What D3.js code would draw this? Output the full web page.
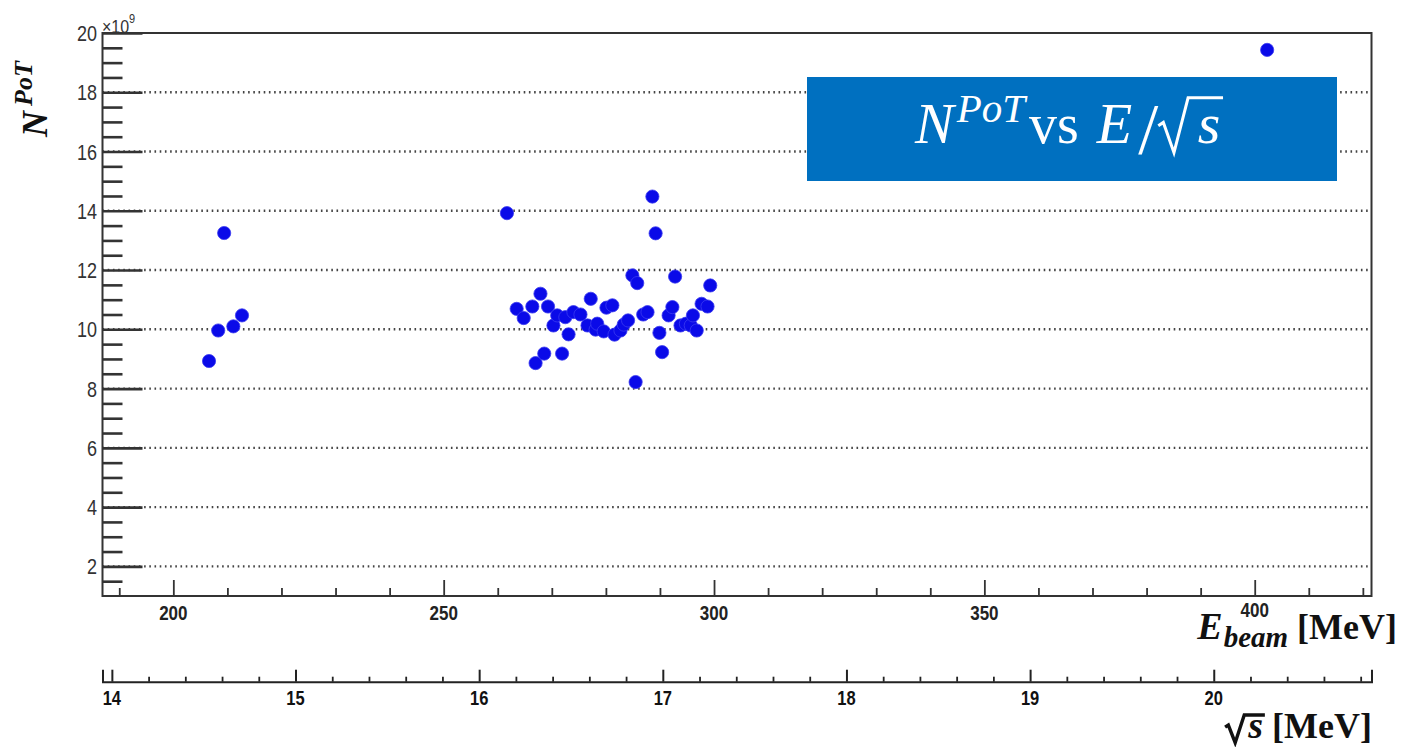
<!DOCTYPE html>
<html>
<head>
<meta charset="utf-8">
<script src="https://cdn.jsdelivr.net/npm/d3@7"></script>
<style>
  html, body { margin: 0; padding: 0; background: #fff; }
  svg { display: block; }
</style>
</head>
<body>
<svg id="chart" width="1405" height="747"></svg>
<script>
// Beam energy (MeV) of each run
const eBeam = [206.6, 208.3, 209.4, 211.1, 212.7, 261.7, 263.5, 264.8, 266.4, 267.0,
  267.9, 268.6, 269.3, 270.3, 271.0, 271.9, 272.5, 273.1, 274.0, 275.3,
  276.6, 277.2, 278.1, 278.4, 279.6, 280.1, 281.2, 281.6, 282.7, 283.3,
  284.1, 284.9, 285.5, 285.8, 286.9, 287.7, 288.6, 289.2, 289.9, 290.4,
  291.6, 292.3, 292.8, 293.8, 294.8, 295.7, 296.1, 296.8, 297.7, 298.8,
  299.3, 402.3];
// Positrons on target, in units of 10^9
const nPoT = [8.93, 9.96, 13.25, 10.10, 10.47, 13.92, 10.69, 10.38, 10.77, 8.86,
  11.20, 9.18, 10.77, 10.13, 10.47, 9.18, 10.41, 9.83, 10.58, 10.50,
  10.13, 11.03, 9.99, 10.19, 9.93, 10.73, 10.81, 9.82, 9.96, 10.16,
  10.30, 11.82, 8.22, 11.56, 10.50, 10.58, 14.48, 13.24, 9.88, 9.23,
  10.47, 10.75, 11.78, 10.13, 10.19, 10.13, 10.47, 9.96, 10.86, 10.77,
  11.48, 19.43];

const yMajorTicks = [2, 4, 6, 8, 10, 12, 14, 16, 18, 20];
const eMajorTicks = [200, 250, 300, 350, 400];
const sMajorTicks = [14, 15, 16, 17, 18, 19, 20];

const svg = d3.select("#chart");
const frame = { left: 102.5, right: 1371.5, top: 33, bottom: 596 };

const x = d3.scaleLinear().domain([186.9, 421.6]).range([frame.left, frame.right]);
const y = d3.scaleLinear().domain([1.0, 20.0]).range([frame.bottom, frame.top]);
const xs = d3.scaleLinear().domain([13.949, 20.859]).range([frame.left, frame.right]);

const sansBold = "'Liberation Sans', Arial, Helvetica, sans-serif";
const serif = "'Liberation Serif', 'Times New Roman', serif";

// dotted horizontal grid at the major N ticks
svg.append("g").selectAll("line")
  .data(yMajorTicks.filter(d => d < 20))
  .join("line")
  .attr("x1", frame.left).attr("x2", frame.right)
  .attr("y1", d => y(d)).attr("y2", d => y(d))
  .attr("stroke", "#444").attr("stroke-width", 2.4)
  .attr("stroke-dasharray", "1.6,3.6");

// left axis: long major ticks, short minor ticks
const yMinor = d3.range(1.5, 20, 0.5).filter(v => Math.abs(v % 2) > 1e-6);
const yAxisMajor = d3.axisRight(y).tickValues(yMajorTicks).tickSize(40).tickFormat("");
const yAxisMinor = d3.axisRight(y).tickValues(yMinor).tickSize(20).tickFormat("");
[yAxisMajor, yAxisMinor].forEach(ax => {
  const g = svg.append("g").attr("transform", `translate(${frame.left},0)`).call(ax);
  g.select(".domain").remove();
  g.selectAll("line").attr("stroke", "#333").attr("stroke-width", 2.6);
});

// N tick labels
svg.append("g").selectAll("text")
  .data(yMajorTicks)
  .join("text")
  .attr("transform", d => `translate(97,${y(d)}) scale(1,1.25)`)
  .attr("dy", "0.36em")
  .attr("text-anchor", "end")
  .attr("font-family", sansBold)
  .attr("font-size", 18)
  .attr("fill", "#333")
  .text(d => d);

// exponent marker
const expo = svg.append("text")
  .attr("transform", "translate(102,33) scale(1,1.2)")
  .attr("font-family", sansBold).attr("font-size", 16).attr("fill", "#333");
expo.append("tspan").text("×10");
expo.append("tspan").attr("font-size", 11).attr("dy", -8).text("9");

// E_beam axis on the bottom edge of the frame (ticks point up)
const eMinor = d3.range(190, 421, 10).filter(v => v % 50 !== 0);
const eAxisMajor = d3.axisTop(x).tickValues(eMajorTicks).tickSize(16).tickFormat("");
const eAxisMinor = d3.axisTop(x).tickValues(eMinor).tickSize(8).tickFormat("");
[eAxisMajor, eAxisMinor].forEach(ax => {
  const g = svg.append("g").attr("transform", `translate(0,${frame.bottom})`).call(ax);
  g.select(".domain").remove();
  g.selectAll("line").attr("stroke", "#333").attr("stroke-width", 1.8);
});
svg.append("g").selectAll("text")
  .data(eMajorTicks)
  .join("text")
  .attr("transform", d => `translate(${x(d)},${d === 400 ? 617 : 620}) scale(1,1.22)`)
  .attr("text-anchor", "middle")
  .attr("font-family", sansBold).attr("font-weight", "bold")
  .attr("font-size", 17).attr("fill", "#222")
  .text(d => d);

// plot frame
svg.append("rect")
  .attr("x", frame.left).attr("y", frame.top)
  .attr("width", frame.right - frame.left).attr("height", frame.bottom - frame.top)
  .attr("fill", "none").attr("stroke", "#333").attr("stroke-width", 2);

// sqrt(s) axis
const sY = 681.7;
const sMinor = d3.range(14.0, 20.9, 0.2).map(v => +v.toFixed(1)).filter(v => Math.abs(v - Math.round(v)) > 1e-6);
const sAxisMajor = d3.axisTop(xs).tickValues(sMajorTicks).tickSize(12).tickFormat("").tickSizeOuter(12);
const sAxisMinor = d3.axisTop(xs).tickValues(sMinor).tickSize(5).tickFormat("").tickSizeOuter(0);
const sg = svg.append("g").attr("transform", `translate(0,${sY})`).call(sAxisMajor);
sg.select(".domain").attr("stroke", "#222").attr("stroke-width", 2).attr("fill", "none");
sg.selectAll("line").attr("stroke", "#222").attr("stroke-width", 2);
const sg2 = svg.append("g").attr("transform", `translate(0,${sY})`).call(sAxisMinor);
sg2.select(".domain").remove();
sg2.selectAll("line").attr("stroke", "#222").attr("stroke-width", 1.8);
svg.append("g").selectAll("text")
  .data(sMajorTicks)
  .join("text")
  .attr("transform", d => `translate(${xs(d)},704.5) scale(1,1.22)`)
  .attr("text-anchor", "middle")
  .attr("font-family", sansBold).attr("font-weight", "bold")
  .attr("font-size", 16.5).attr("fill", "#111")
  .text(d => d);

// data points
svg.append("g").selectAll("circle")
  .data(eBeam.map((e, i) => [e, nPoT[i]]))
  .join("circle")
  .attr("cx", d => x(d[0]))
  .attr("cy", d => y(d[1]))
  .attr("r", 6.6)
  .attr("fill", "#0a0ae8")
  .attr("stroke", "#3b3bf0")
  .attr("stroke-width", 0.8);

// lays out a sequence of text runs (with optional radical signs) from a start point
function textRuns(parent, parts, px, py, anchor, color) {
  const g = parent.append("g");
  let cx = 0;
  const placed = [];
  parts.forEach(p => {
    cx += p.gap || 0;
    if (p.radical) {
      const w = p.size * p.w;
      placed.push({ p, x: cx, w });
      cx += w;
      return;
    }
    const t = g.append("text")
      .attr("x", cx).attr("y", p.dy || 0)
      .attr("font-family", p.family || serif)
      .attr("font-size", p.size)
      .attr("font-style", p.italic ? "italic" : "normal")
      .attr("font-weight", p.bold ? "bold" : "normal")
      .attr("fill", color)
      .text(p.text);
    const w = t.node().getComputedTextLength();
    placed.push({ p, x: cx, w });
    cx += w;
  });
  placed.forEach((r, i) => {
    if (!r.p.radical) return;
    const f = r.p.size, nx = placed[i + 1];
    const x0 = r.x, top = -r.p.top * f, bot = r.p.bot * f;
    const right = nx.x + nx.w + f * 0.05;
    const d = `M${x0},${-0.3 * f} L${x0 + 0.09 * f},${-0.36 * f} L${x0 + r.w * 0.5},${bot} ` +
      `L${x0 + r.w * 0.95},${top} L${right},${top}`;
    g.append("path").attr("d", d)
      .attr("fill", "none").attr("stroke", color)
      .attr("stroke-width", r.p.stroke).attr("stroke-linejoin", "miter");
  });
  const shift = anchor === "end" ? -cx : anchor === "middle" ? -cx / 2 : 0;
  g.attr("transform", `translate(${px + shift},${py})`);
  return g;
}

// vertical axis title
const yTitle = svg.append("g").attr("transform", "translate(47,137) rotate(-90)");
textRuns(yTitle, [
  { text: "N", size: 36, italic: true, bold: true },
  { text: "PoT", size: 26, italic: true, bold: true, dy: -15, gap: 5 }
], 0, 0, "start", "#111");

// E_beam axis title
textRuns(svg, [
  { text: "E", size: 38, italic: true, bold: true },
  { text: "beam", size: 29, italic: true, bold: true, dy: 8, gap: 1 },
  { text: "[MeV]", size: 36, bold: true, gap: 9 }
], 1397, 639, "end", "#111");

// sqrt(s) axis title
textRuns(svg, [
  { radical: true, size: 36, w: 0.56, top: 0.64, bot: 0.13, stroke: 3.4 },
  { text: "s", size: 38, italic: true, bold: true, gap: 3 },
  { text: "[MeV]", size: 36, bold: true, gap: 9 }
], 1372, 738, "end", "#111");

// title box
svg.append("rect")
  .attr("x", 807).attr("y", 77).attr("width", 530).attr("height", 104)
  .attr("fill", "#0070c0");
textRuns(svg, [
  { text: "N", size: 58, italic: true },
  { text: "PoT", size: 41, italic: true, dy: -21, gap: 3 },
  { text: "vs", size: 56, gap: 4 },
  { text: "E", size: 58, italic: true, gap: 18 },
  { text: "/", size: 72, dy: 10, gap: 6 },
  { radical: true, size: 56, w: 0.56, top: 0.8, bot: 0.18, stroke: 3 },
  { text: "s", size: 58, italic: true, gap: 8 }
], 915, 142.6, "start", "#ffffff");
</script>
</body>
</html>
